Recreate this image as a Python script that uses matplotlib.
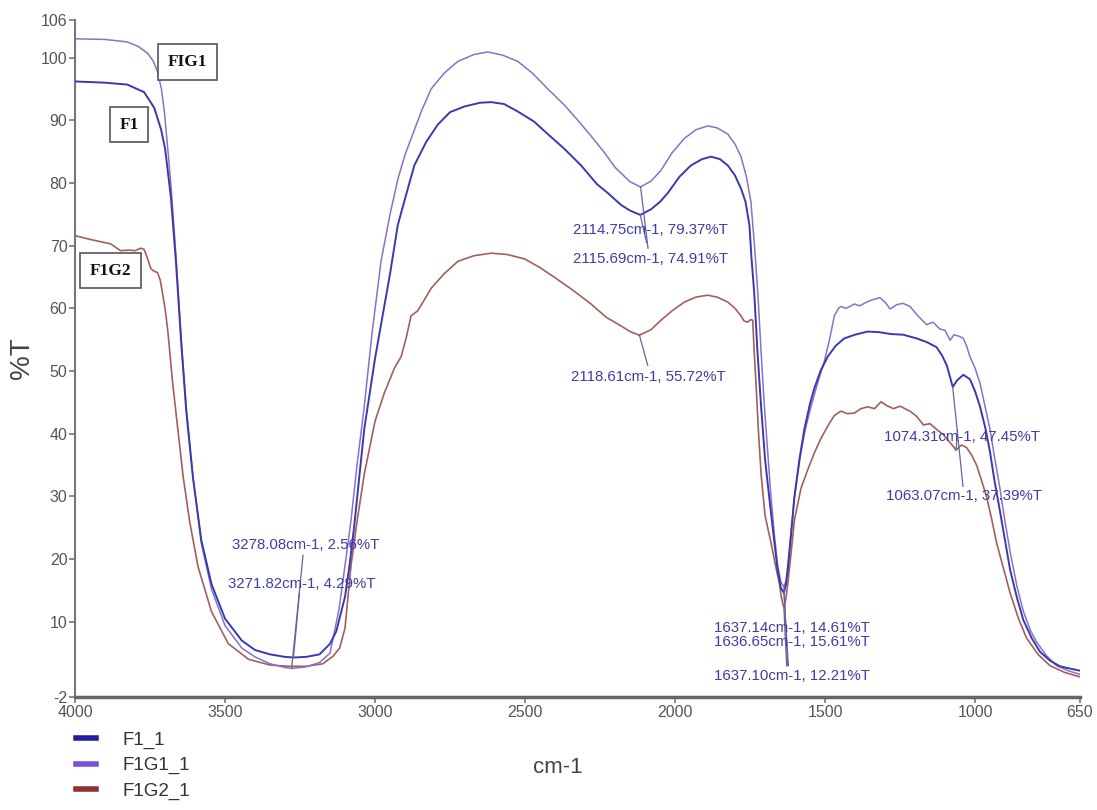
import matplotlib
matplotlib.use("Agg")
import matplotlib.pyplot as plt
from matplotlib import font_manager
from matplotlib.lines import Line2D

# ---- data (wavenumber cm-1, %T) ----
f1_x = [4000, 3900, 3826, 3770, 3736, 3713, 3700, 3691, 3680, 3663, 3646, 3629,
        3607, 3579, 3545, 3500, 3444, 3400, 3350, 3300, 3272, 3230, 3185, 3150,
        3129, 3100, 3085, 3070, 3036, 3000, 2980, 2950, 2924, 2900, 2869, 2830,
        2791, 2750, 2702, 2650, 2613, 2570, 2524, 2470, 2424, 2370, 2313, 2260,
        2224, 2180, 2150, 2116, 2080, 2050, 2024, 1985, 1947, 1910, 1880, 1850,
        1824, 1800, 1780, 1765, 1752, 1745, 1736, 1725, 1713, 1700, 1686, 1672,
        1658, 1648, 1637, 1630, 1624, 1613, 1602, 1585, 1569, 1550, 1536, 1515,
        1491, 1465, 1436, 1400, 1358, 1320, 1280, 1240, 1194, 1160, 1128, 1110,
        1094, 1074, 1060, 1039, 1017, 1000, 983, 965, 950, 935, 917, 900, 883,
        860, 839, 810, 783, 750, 717, 680, 650]
f1_y = [96.2, 96.0, 95.7, 94.5, 92.0, 88.5, 85.5, 82.0, 77.5, 67.0, 54.5, 43.5,
        33.0, 23.0, 16.0, 10.5, 7.0, 5.5, 4.8, 4.4, 4.3, 4.4, 4.8, 6.5,
        8.5, 14.0, 19.0, 25.0, 40.7, 52.0, 57.4, 65.5, 73.3, 77.5, 82.8, 86.5,
        89.3, 91.3, 92.2, 92.8, 92.9, 92.6, 91.4, 89.8, 87.8, 85.5, 82.8, 79.8,
        78.4, 76.5, 75.6, 74.91, 75.8, 77.0, 78.4, 81.0, 82.8, 83.8, 84.2, 83.8,
        82.8, 81.2, 79.1, 77.0, 73.3, 68.0, 62.5, 53.0, 44.3, 36.0, 29.9, 24.0,
        18.3, 15.5, 14.61, 16.0, 18.3, 24.0, 29.9, 36.0, 40.7, 44.8, 47.2, 50.0,
        52.3, 54.0, 55.2, 55.8, 56.3, 56.2, 55.9, 55.8, 55.2, 54.6, 53.8, 52.5,
        50.9, 47.45, 48.5, 49.4, 48.7, 46.8, 44.3, 40.8, 37.1, 32.5, 27.7, 23.0, 18.3,
        13.8, 10.3, 7.3, 5.2, 3.8, 2.9, 2.5, 2.2]

f1g1_x = [4000, 3900, 3826, 3790, 3758, 3740, 3725, 3712, 3702, 3691, 3680, 3663,
          3646, 3629, 3607, 3579, 3545, 3500, 3444, 3400, 3350, 3300, 3278, 3230,
          3185, 3150, 3120, 3100, 3080, 3060, 3036, 3010, 2980, 2950, 2924, 2900,
          2874, 2845, 2813, 2770, 2724, 2670, 2624, 2575, 2524, 2475, 2424, 2370,
          2324, 2280, 2236, 2200, 2150, 2115, 2080, 2047, 2010, 1969, 1930, 1891,
          1860, 1824, 1800, 1780, 1762, 1747, 1735, 1724, 1713, 1702, 1690, 1680,
          1668, 1658, 1646, 1637, 1630, 1624, 1613, 1602, 1590, 1580, 1565, 1547,
          1525, 1502, 1485, 1469, 1455, 1447, 1430, 1417, 1402, 1385, 1361, 1340,
          1317, 1300, 1283, 1260, 1240, 1217, 1190, 1161, 1140, 1117, 1100, 1083,
          1070, 1050, 1039, 1028, 1017, 1000, 983, 967, 950, 935, 917, 900, 883,
          860, 839, 815, 794, 760, 728, 690, 650]
f1g1_y = [103.0, 102.9, 102.5, 101.8, 100.7, 99.5, 97.8, 95.0, 91.3, 85.5, 79.5, 68.0,
          55.0, 44.0, 33.3, 22.5, 15.2, 9.4, 5.8, 4.4, 3.3, 2.7, 2.56, 2.8,
          3.5, 5.0, 12.0, 19.0, 26.2, 35.0, 44.3, 56.0, 67.5, 75.0, 80.6, 84.5,
          87.8, 91.5, 95.0, 97.5, 99.4, 100.5, 100.9, 100.4, 99.4, 97.5, 95.0, 92.5,
          90.0, 87.5, 84.9, 82.5, 80.2, 79.37, 80.3, 82.0, 84.8, 87.1, 88.5, 89.1,
          88.8, 87.8, 86.2, 84.2, 81.0, 77.0, 70.0, 62.5, 53.0, 44.3, 36.5, 29.9,
          23.5, 19.0, 16.2, 15.61, 16.5, 19.0, 24.5, 29.9, 34.0, 37.1, 40.8, 44.3,
          48.0, 51.6, 55.0, 58.8, 60.0, 60.3, 60.0, 60.3, 60.7, 60.4, 61.0, 61.4,
          61.7, 61.0, 59.9, 60.6, 60.8, 60.3, 58.8, 57.4, 57.8, 56.7, 56.5, 54.9,
          55.8, 55.5, 55.2, 54.0, 52.3, 50.5, 48.0, 44.5, 40.7, 36.3, 31.3, 26.0, 21.2,
          15.6, 11.7, 8.6, 6.7, 4.5, 3.0, 2.2, 1.6]

f1g2_x = [4000, 3950, 3882, 3848, 3820, 3800, 3781, 3770, 3760, 3747, 3735, 3725,
          3716, 3708, 3700, 3691, 3674, 3657, 3640, 3618, 3590, 3545, 3489, 3421,
          3350, 3287, 3230, 3174, 3140, 3118, 3100, 3080, 3060, 3036, 3000, 2969,
          2935, 2913, 2895, 2880, 2858, 2840, 2813, 2770, 2724, 2670, 2613, 2560,
          2502, 2450, 2391, 2335, 2280, 2230, 2180, 2150, 2119, 2080, 2047, 2010,
          1969, 1930, 1891, 1860, 1824, 1800, 1780, 1770, 1758, 1748, 1741, 1736,
          1730, 1722, 1713, 1700, 1680, 1665, 1652, 1645, 1637, 1630, 1624, 1613,
          1602, 1590, 1580, 1558, 1535, 1513, 1490, 1469, 1447, 1425, 1402, 1380,
          1358, 1335, 1313, 1295, 1272, 1250, 1217, 1195, 1172, 1150, 1128, 1105,
          1083, 1063, 1045, 1028, 1010, 994, 978, 961, 945, 928, 905, 883, 855,
          828, 790, 750, 700, 650]
f1g2_y = [71.6, 71.0, 70.3, 69.2, 69.3, 69.2, 69.6, 69.4, 68.2, 66.3, 65.9, 65.7,
          64.5, 62.3, 60.0, 56.5, 47.8, 40.6, 33.3, 26.0, 18.8, 11.6, 6.5, 4.0,
          3.1, 2.9, 2.9, 3.3, 4.5, 5.8, 9.0, 19.0, 26.0, 33.5, 42.0, 46.5,
          50.5, 52.3, 55.5, 58.8, 59.6, 61.0, 63.2, 65.5, 67.5, 68.4, 68.8, 68.6,
          67.9, 66.5, 64.6, 62.7, 60.7, 58.6, 57.2, 56.3, 55.72, 56.6, 58.1, 59.6,
          61.0, 61.8, 62.1, 61.8, 61.0, 60.0, 58.8, 58.0, 57.8, 58.2, 58.1, 53.0,
          48.0, 40.5, 33.5, 27.0, 22.6, 19.0, 16.1, 13.8, 12.21, 13.8, 16.1, 21.0,
          26.2, 29.0, 31.3, 34.2, 37.0, 39.3, 41.3, 42.9, 43.6, 43.2, 43.3, 44.0,
          44.3, 44.0, 45.1, 44.5, 44.0, 44.4, 43.6, 42.8, 41.4, 41.6, 40.7, 39.8,
          38.6, 37.39, 38.2, 37.8, 36.5, 34.9, 32.5, 29.9, 26.5, 22.6, 18.5, 14.6, 10.5,
          7.4, 4.8, 3.0, 1.9, 1.2]

series_names = ["F1_1", "F1G1_1", "F1G2_1"]
box_labels = ["FIG1", "F1", "F1G2"]

# picked peaks (wavenumber, %T) as reported by the software
peak_pos = [3278.08, 3271.82, 2114.75, 2115.69, 2118.61,
            1637.14, 1636.65, 1637.10, 1074.31, 1063.07]
peak_val = [2.56, 4.29, 79.37, 74.91, 55.72,
            14.61, 15.61, 12.21, 47.45, 37.39]

xticks = [4000, 3500, 3000, 2500, 2000, 1500, 1000, 650]
yticks = [-2, 10, 20, 30, 40, 50, 60, 70, 80, 90, 100, 106]

# ---- layout / style ----
line_cols = ["#3a3ab0", "#8a70c8", "#a3605a"]
legend_cols = ["#1f1fa0", "#7a50d8", "#8e3333"]
# label centres (data coords) and leader line ends
txt_xy = [(3231, 22.3), (3243, 16.0), (2083, 72.5), (2083, 67.8), (2088, 49.1),
          (1609, 9.0), (1609, 6.7), (1609, 1.3), (1044, 39.4), (1036, 30.0)]
lead_end = [(3240, 20.6), (3252, 14.5), (2090, 69.6), (2095, 70.5), (2091, 50.9),
            (1622, 3.0), (1625, 3.0), (1628, 3.0), (1040, 31.6), (1058, 40.6)]
box_xy = [(3626, 99.3), (3820, 89.3), (3882, 66.0)]

sans = "Liberation Sans"

fig = plt.figure(figsize=(10.97, 8.10), dpi=100)
ax = fig.add_axes([0.0684, 0.1395, 0.9161, 0.8358])

ax.plot(f1g2_x, f1g2_y, color=line_cols[2], lw=1.2, zorder=3)
ax.plot(f1g1_x, f1g1_y, color=line_cols[1], lw=1.1, zorder=4)
ax.plot(f1_x, f1_y, color=line_cols[0], lw=1.4, zorder=5)

for (px, py), (lx, ly) in zip(zip(peak_pos, peak_val), lead_end):
    ax.plot([px, lx], [py, ly], color="#6464a0", lw=0.9, zorder=6)

for (px, py), (tx, ty) in zip(zip(peak_pos, peak_val), txt_xy):
    ax.text(tx, ty, f"{px:.2f}cm-1, {py:.2f}%T", ha="center", va="center",
            fontsize=10.8, color="#3d3da8", family=sans, zorder=7)

for lab, (bx, by) in zip(box_labels, box_xy):
    ax.text(bx, by, lab, ha="center", va="center", fontsize=12.5,
            fontweight="bold", family="Liberation Serif", color="#111111", zorder=8,
            bbox=dict(boxstyle="square,pad=0.55", fc="white", ec="#555555", lw=1.2))

ax.set_xlim(4000, 650)
ax.set_ylim(-2, 106)
ax.set_xticks(xticks)
ax.set_yticks(yticks)
ax.set_xticklabels([str(t) for t in xticks], family=sans, fontsize=11.5, color="#555555")
ax.set_yticklabels([str(t) for t in yticks], family=sans, fontsize=11.5, color="#555555")
ax.tick_params(axis="both", direction="out", length=4, width=1.2, color="#777777", pad=1.5)

for s in ["top", "right"]:
    ax.spines[s].set_visible(False)
ax.spines["left"].set_color("#777777")
ax.spines["left"].set_linewidth(1.5)
ax.spines["bottom"].set_color("#666666")
ax.spines["bottom"].set_linewidth(2.5)

ax.set_ylabel("%T", family=sans, fontsize=20, color="#444444")
ax.yaxis.set_label_coords(-0.04, 0.50)
ax.set_xlabel("cm-1", family=sans, fontsize=16, color="#444444")
ax.xaxis.set_label_coords(0.48, -0.088)

handles = [Line2D([], [], color=c, lw=4) for c in legend_cols]
fig.legend(handles, series_names, loc="upper left", bbox_to_anchor=(0.069, 0.097),
           frameon=False, handlelength=1.1, handletextpad=1.4, labelspacing=0.45,
           borderpad=0, borderaxespad=0,
           prop=font_manager.FontProperties(family=sans, size=13.5))
for t in fig.legends[0].get_texts():
    t.set_color("#333333")

fig.savefig("out.png", dpi=100)
